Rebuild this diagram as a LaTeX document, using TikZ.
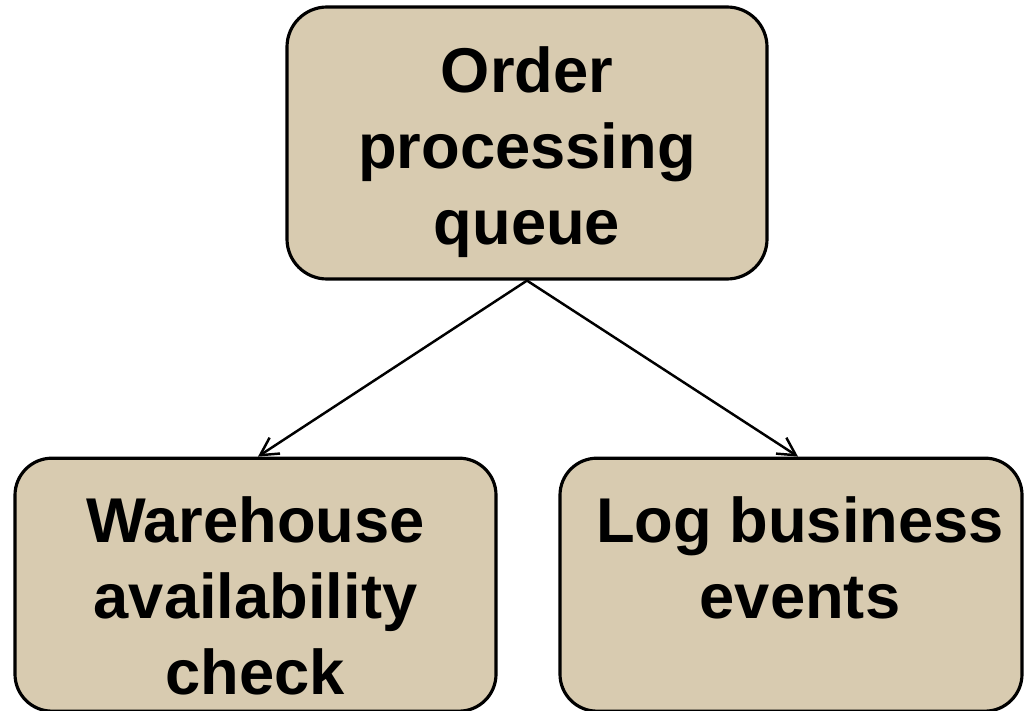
\documentclass[tikz,border=0pt]{standalone}
\usepackage{fontspec}
\setmainfont{Liberation Sans}
\usepackage{xcolor}
\usetikzlibrary{positioning,arrows.meta}
\definecolor{boxtan}{RGB}{216,203,176}

\begin{document}
\begin{tikzpicture}[->,>={Straight Barb[length=1.75mm,width=1.9mm]},line width=0.7pt,
	box/.style={draw,line width=0.9pt,fill=boxtan,rounded corners=0.4cm,inner sep=0pt},
	txt/.style={inner sep=0pt,align=center,anchor=north,font=\fontsize{18}{21.6}\selectfont\bfseries}]
	\useasboundingbox (0,0) rectangle (10.25,-7.10);
	\node[box,minimum width=4.80cm,minimum height=2.72cm] (queue) at (5.27,-1.43) {};
	\node[box,minimum width=4.81cm,minimum height=2.53cm,rounded corners=0.37cm] (stock) [below=1.76cm of queue,xshift=-2.715cm] {};
	\node[box,minimum width=4.62cm,minimum height=2.53cm,rounded corners=0.37cm] (log) [below=1.76cm of queue,xshift=2.64cm] {};
	
	\node[txt] (queueTxt) [below=0.40cm of queue.north] {Order\\processing\\queue};
	\node[txt] (stockTxt) [below=0.39cm of stock.north] {Warehouse\\availability\\check};
	\node[txt] (logTxt) [below=0.39cm of log.north,xshift=0.09cm] {Log business\\events};
	
	\draw (queue.south) -- ([xshift=0.025cm]stock.north);
	\draw (queue.south) -- ([xshift=0.07cm]log.north);
\end{tikzpicture}
\end{document}
